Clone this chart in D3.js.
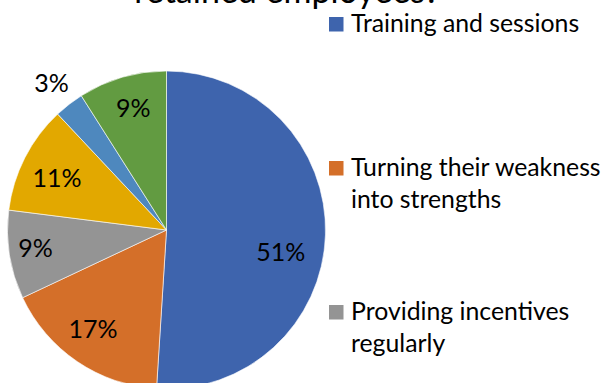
<!DOCTYPE html>
<html>
<head>
<meta charset="utf-8">
<script src="https://cdn.jsdelivr.net/npm/d3@7"></script>
<style>
  html, body { margin: 0; padding: 0; background: #fff; }
  svg { display: block; font-family: Lato, "Open Sans", sans-serif; }
</style>
</head>
<body>
<svg id="chart" width="605" height="383"></svg>
<script>
// Survey answers: share of respondents per method (first three named in the legend)
const categories = [
  "Training and sessions",
  "Turning their weakness into strengths",
  "Providing incentives regularly"
];
const values = [51, 17, 9, 11, 3, 9];
const valueLabels = ["51%", "17%", "9%", "11%", "3%", "9%"];
const colors = ["#3E64AD", "#D46F29", "#949494", "#E2A800", "#4E88BE", "#629B41"];

// Legend entries, wrapped onto lines
const legendLines = [
  ["Training and sessions"],
  ["Turning their weakness", "into strengths"],
  ["Providing incentives", "regularly"]
];
const titleText = "retained employees?";

// Label placement along each slice (fraction of radius, angular nudge in degrees)
const labelRadius = [0.73, 0.77, 0.83, 0.765, 1.18, 0.80];
const labelNudge = [8.6, 2.7, 1.6, -1.2, 0, 1.0];

const svg = d3.select("#chart");
const cx = 166.5, cy = 230, R = 159;

const pie = d3.pie().sort(null).value(d => d);
const arcs = pie(values);
const arc = d3.arc().innerRadius(0).outerRadius(R);

const g = svg.append("g").attr("transform", `translate(${cx},${cy})`);

g.selectAll("path.slice")
  .data(arcs)
  .join("path")
  .attr("class", "slice")
  .attr("d", arc)
  .attr("fill", (d, i) => colors[i])
  .attr("stroke", "#ffffff")
  .attr("stroke-width", 0.6);

g.selectAll("text.val")
  .data(arcs)
  .join("text")
  .attr("class", "val")
  .attr("text-anchor", "middle")
  .attr("dominant-baseline", "central")
  .attr("font-size", 25)
  .attr("fill", "#000")
  .attr("transform", (d, i) => {
    const a = (d.startAngle + d.endAngle) / 2 + labelNudge[i] * Math.PI / 180;
    const r = R * labelRadius[i];
    return `translate(${r * Math.sin(a)},${-r * Math.cos(a)})`;
  })
  .text((d, i) => valueLabels[i]);

// Title (runs off the top edge)
svg.append("text")
  .attr("x", 287)
  .attr("y", 3)
  .attr("text-anchor", "middle")
  .attr("font-size", 34)
  .attr("fill", "#000")
  .text(titleText);

// Legend
const legend = svg.append("g");
const legendTop = 31.5, legendStep = 144, lineH = 32;
legendLines.forEach((lines, i) => {
  const y = legendTop + i * legendStep;
  legend.append("rect")
    .attr("x", 329).attr("y", y - 14.5)
    .attr("width", 14.5).attr("height", 14.5)
    .attr("fill", colors[i]);
  lines.forEach((t, j) => {
    legend.append("text")
      .attr("x", 351).attr("y", y + j * lineH)
      .attr("font-size", 24.8)
      .attr("fill", "#000")
      .text(t);
  });
});
</script>
</body>
</html>
